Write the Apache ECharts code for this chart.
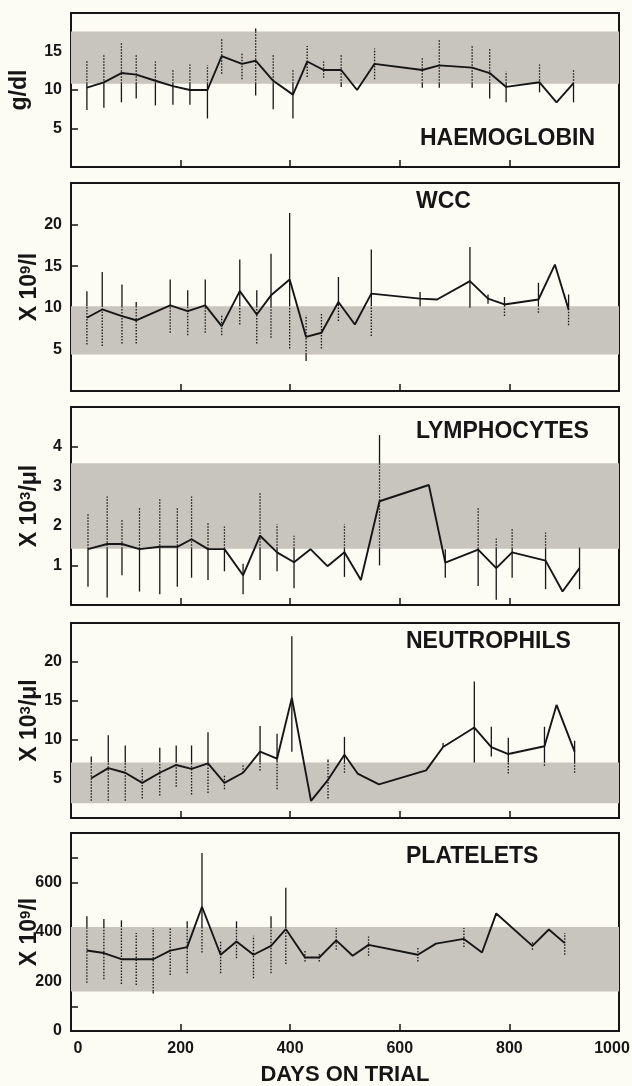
<!DOCTYPE html>
<html>
<head>
<meta charset="utf-8">
<script src="https://cdn.jsdelivr.net/npm/echarts@6/dist/echarts.min.js"></script>
<style>
  html, body { margin: 0; padding: 0; background: #fcfbf4; }
  #chart { width: 632px; height: 1086px; }
</style>
</head>
<body>
<div id="chart"></div>
<script>
// haemoglobin (g/dl)
var hbDays = [29, 60, 92, 119, 154, 186, 217, 249, 275, 312, 337, 369, 405, 431, 461, 493, 522, 554, 641, 672, 732, 764, 794, 855, 886, 917]
var hbMean = [10.3, 11.0, 12.2, 12.0, 11.2, 10.5, 10.0, 10.0, 14.4, 13.4, 13.8, 11.2, 9.4, 13.7, 12.6, 12.6, 10.0, 13.4, 12.6, 13.2, 12.9, 12.2, 10.4, 11.0, 8.4, 10.9]
var hbLow = [7.4, 7.7, 8.4, 8.9, 8.0, 8.1, 8.1, 6.3, 12.1, 11.4, 9.3, 7.5, 6.3, 11.7, 11.6, 10.4, null, 11.4, 10.3, 10.3, 10.3, 8.9, 8.4, 9.7, null, 8.4]
var hbHigh = [13.9, 14.7, 16.2, 14.7, 13.7, 12.6, 13.3, 13.2, 16.6, 14.7, 18.0, 14.7, 12.6, 15.7, 13.7, 14.7, null, 15.4, 14.3, 16.6, 15.7, 15.4, 12.4, 13.3, null, 12.7]
var hbBand = [10.8, 17.6]

// white cell count (x 10^9/l)
var wccDays = [29, 57, 93, 119, 181, 213, 245, 275, 308, 339, 365, 399, 429, 457, 488, 518, 548, 637, 668, 728, 761, 791, 853, 883, 908]
var wccMean = [8.8, 9.8, 9.0, 8.5, 10.3, 9.6, 10.3, 7.8, 12.0, 9.2, 11.5, 13.4, 6.5, 7.0, 10.7, 8.0, 11.7, 11.1, 11.0, 13.2, 11.1, 10.4, 11.0, 15.2, 9.8]
var wccLow = [5.6, 5.4, 5.7, 5.7, 7.0, 6.7, 7.0, 6.7, 8.0, 5.7, 6.4, 5.1, 3.6, 5.1, 8.4, null, 6.6, 10.2, null, 10.0, 10.5, 9.0, 9.4, null, 7.9]
var wccHigh = [12.0, 14.3, 12.8, 10.7, 13.4, 12.1, 13.4, 9.1, 15.8, 12.1, 16.5, 21.4, 9.1, 9.4, 13.7, null, 17.0, 11.9, null, 17.3, 11.6, 11.3, 13.0, null, 11.6]
var wccBand = [4.4, 10.2]

// lymphocytes (x 10^3/ul)
var lymDays = [31, 66, 93, 125, 162, 194, 220, 250, 280, 314, 345, 376, 407, 437, 468, 499, 529, 563, 653, 683, 743, 776, 805, 866, 897, 928]
var lymMean = [1.41, 1.54, 1.54, 1.41, 1.47, 1.47, 1.66, 1.41, 1.41, 0.75, 1.75, 1.33, 1.08, 1.41, 0.98, 1.33, 0.63, 2.62, 3.03, 1.07, 1.40, 0.93, 1.33, 1.12, 0.34, 0.93]
var lymLow = [0.46, 0.19, 0.75, 0.34, 0.27, 0.46, 0.69, 0.63, 0.85, 0.27, 0.63, 0.85, 0.42, null, null, 0.71, null, 1.0, null, 0.69, 0.48, 0.13, 0.69, 0.40, null, 0.40]
var lymHigh = [2.31, 2.74, 2.14, 2.45, 2.68, 2.47, 2.74, 2.10, 1.98, 1.04, 2.84, 2.04, 1.75, null, null, 2.04, null, 4.29, null, 1.41, 2.45, 1.68, 1.95, 1.83, null, 1.45]
var lymBand = [1.42, 3.58]

// neutrophils (x 10^3/ul)
var neuDays = [37, 68, 99, 130, 162, 192, 220, 250, 280, 314, 345, 376, 403, 438, 469, 499, 523, 562, 648, 679, 736, 767, 798, 864, 886, 919]
var neuMean = [5.1, 6.4, 5.8, 4.5, 5.8, 6.8, 6.3, 7.0, 4.5, 5.8, 8.5, 7.6, 15.4, 2.2, 4.9, 8.1, 5.7, 4.3, 6.1, 9.1, 11.6, 9.1, 8.2, 9.2, 14.5, 8.5]
var neuLow = [2.2, 2.2, 2.2, 2.5, 2.9, 4.0, 3.0, 3.2, 3.7, 5.8, 6.1, 3.7, 8.5, null, 2.5, 5.8, null, null, null, 9.1, 7.1, 7.9, 5.7, 6.7, null, 5.8]
var neuHigh = [7.9, 10.6, 9.3, 6.4, 9.0, 9.3, 9.3, 11.0, 5.6, 6.8, 11.8, 10.8, 23.3, null, 7.5, 10.4, null, null, null, 9.6, 17.5, 11.7, 10.3, 11.7, null, 9.9]
var neuBand = [1.9, 7.1]

// platelets (x 10^9/l)
var pltDays = [29, 60, 92, 119, 150, 181, 212, 239, 273, 302, 333, 365, 392, 427, 453, 484, 514, 543, 633, 666, 717, 750, 776, 842, 872, 901]
var pltMean = [325, 315, 290, 290, 290, 325, 339, 502, 308, 362, 308, 344, 412, 297, 297, 366, 304, 348, 308, 353, 372, 317, 475, 344, 410, 355]
var pltLow = [195, 209, 190, 186, 152, 226, 233, 317, 233, 294, 213, 233, 271, 281, 281, 328, null, 304, 281, null, 339, null, null, 328, null, 308]
var pltHigh = [464, 453, 447, 396, 416, 416, 443, 719, 362, 443, 385, 464, 579, 325, 315, 416, null, 382, 335, null, 416, null, null, 362, null, 396]
var pltBand = [160, 420]

var dayTicks = [0, 200, 400, 600, 800, 1000]
var pltLabels = [0, 200, 400, 600]
var pltTicks = [100, 200, 400, 600, 700]

var FONT = '"Liberation Sans", Arial, Helvetica, sans-serif'
var INK = '#161616'
var BAND = '#c7c5be'

var grids = [
  { top: 13, height: 154 },
  { top: 183, height: 208 },
  { top: 407, height: 198 },
  { top: 623, height: 195 },
  { top: 833, height: 198 }
]

function pairs (days, vals) {
  return days.map(function (d, i) { return [d, vals[i]] })
}

function barRows (days, lo, hi) {
  return days.map(function (d, i) { return [d, lo[i], hi[i]] })
    .filter(function (r) { return r[1] != null })
}

// error bar: solid outside the shaded range, dotted inside it (like the print screen)
function errorSeries (idx, band, rows) {
  return {
    type: 'custom',
    xAxisIndex: idx,
    yAxisIndex: idx,
    z: 4,
    silent: true,
    renderItem: function (params, api) {
      var d = api.value(0)
      var lo = api.value(1)
      var hi = api.value(2)
      var cuts = [lo, Math.min(Math.max(band[0], lo), hi), Math.max(Math.min(band[1], hi), lo), hi]
      var kids = []
      for (var k = 0; k < 3; k++) {
        if (cuts[k + 1] <= cuts[k]) continue
        var p1 = api.coord([d, cuts[k]])
        var p2 = api.coord([d, cuts[k + 1]])
        kids.push({
          type: 'line',
          shape: { x1: p1[0], y1: p1[1], x2: p2[0], y2: p2[1] },
          style: { stroke: INK, lineWidth: 1.3, lineDash: k === 1 ? [1.5, 1.5] : null }
        })
      }
      return { type: 'group', children: kids }
    },
    data: rows
  }
}

function meanSeries (idx, band, data) {
  return {
    type: 'line',
    xAxisIndex: idx,
    yAxisIndex: idx,
    z: 3,
    showSymbol: false,
    symbol: 'none',
    lineStyle: { color: INK, width: 1.9 },
    markArea: {
      silent: true,
      itemStyle: { color: BAND },
      data: [[{ yAxis: band[0] }, { yAxis: band[1] }]]
    },
    data: data
  }
}

function makeX (idx) {
  var last = idx === 4
  return {
    type: 'value',
    gridIndex: idx,
    min: 0,
    max: 1000,
    interval: 200,
    axisLine: { show: false },
    axisTick: { show: true, inside: true, length: 7, lineStyle: { color: INK, width: 1.5 } },
    axisLabel: {
      show: last,
      margin: 10,
      color: INK,
      fontFamily: FONT,
      fontWeight: 'bold',
      fontSize: 16,
      customValues: last ? dayTicks : undefined,
      // end labels sit a little inside the frame in the print
      formatter: function (v) {
        if (v === 0) return '{l|0}'
        if (v === 1000) return '{r|1000}'
        return String(v)
      },
      rich: {
        l: { fontFamily: FONT, fontWeight: 'bold', fontSize: 16, color: INK, padding: [0, 0, 0, 14] },
        r: { fontFamily: FONT, fontWeight: 'bold', fontSize: 16, color: INK, padding: [0, 14, 0, 0] }
      }
    },
    splitLine: { show: false },
    name: last ? 'DAYS ON TRIAL' : '',
    nameLocation: 'middle',
    nameGap: 33,
    nameTextStyle: { color: INK, fontFamily: FONT, fontWeight: 'bold', fontSize: 22 }
  }
}

function makeY (idx, max, interval, name, gap, extra) {
  var ax = {
    type: 'value',
    gridIndex: idx,
    min: 0,
    max: max,
    interval: interval,
    axisLine: { show: false },
    axisTick: { show: true, inside: true, length: 7, lineStyle: { color: INK, width: 1.5 } },
    axisLabel: {
      margin: 9,
      color: INK,
      fontFamily: FONT,
      fontWeight: 'bold',
      fontSize: 16,
      showMinLabel: false,
      showMaxLabel: false
    },
    splitLine: { show: false },
    name: name,
    nameLocation: 'middle',
    nameRotate: 90,
    nameGap: gap,
    nameMoveOverlap: false,
    nameTextStyle: {
      color: INK,
      rich: {
        t: { fontFamily: FONT, fontWeight: 'bold', fontSize: 23, lineHeight: 24, color: INK },
        s: { fontFamily: FONT, fontWeight: 'bold', fontSize: 15, lineHeight: 15, verticalAlign: 'top', color: INK }
      }
    }
  }
  if (extra) extra(ax)
  return ax
}

function panelTitle (text, left, top) {
  return {
    text: text,
    left: left,
    top: top,
    padding: 0,
    textStyle: { color: INK, fontFamily: FONT, fontWeight: 'bold', fontSize: 23 }
  }
}

var myChart = echarts.init(document.getElementById('chart'))

var option = {
  backgroundColor: '#fcfbf4',
  animation: false,
  title: [
    panelTitle('HAEMOGLOBIN', 420, 127),
    panelTitle('WCC', 416, 190),
    panelTitle('LYMPHOCYTES', 416, 420),
    panelTitle('NEUTROPHILS', 406, 630),
    panelTitle('PLATELETS', 406, 845)
  ],
  grid: grids.map(function (g) {
    return {
      left: 71,
      width: 548,
      top: g.top,
      height: g.height,
      show: true,
      borderColor: INK,
      borderWidth: 2,
      backgroundColor: 'transparent',
      outerBoundsMode: 'none'
    }
  }),
  xAxis: [0, 1, 2, 3, 4].map(makeX),
  yAxis: [
    makeY(0, 20, 5, '{t|g/dl}', 39),
    makeY(1, 25, 5, '{t|X 10}{s|9}{t|/l}', 29),
    makeY(2, 5, 1, '{t|X 10}{s|3}{t|/μl}', 29),
    makeY(3, 25, 5, '{t|X 10}{s|3}{t|/μl}', 29),
    makeY(4, 800, 100, '{t|X 10}{s|9}{t|/l}', 29, function (ax) {
      ax.axisLabel.showMinLabel = true
      ax.axisLabel.showMaxLabel = true
      ax.axisLabel.customValues = pltLabels
      ax.axisTick.customValues = pltTicks
    })
  ],
  series: [
    meanSeries(0, hbBand, pairs(hbDays, hbMean)),
    errorSeries(0, hbBand, barRows(hbDays, hbLow, hbHigh)),
    meanSeries(1, wccBand, pairs(wccDays, wccMean)),
    errorSeries(1, wccBand, barRows(wccDays, wccLow, wccHigh)),
    meanSeries(2, lymBand, pairs(lymDays, lymMean)),
    errorSeries(2, lymBand, barRows(lymDays, lymLow, lymHigh)),
    meanSeries(3, neuBand, pairs(neuDays, neuMean)),
    errorSeries(3, neuBand, barRows(neuDays, neuLow, neuHigh)),
    meanSeries(4, pltBand, pairs(pltDays, pltMean)),
    errorSeries(4, pltBand, barRows(pltDays, pltLow, pltHigh))
  ]
}

myChart.setOption(option, true)
myChart.resize()
</script>
</body>
</html>
